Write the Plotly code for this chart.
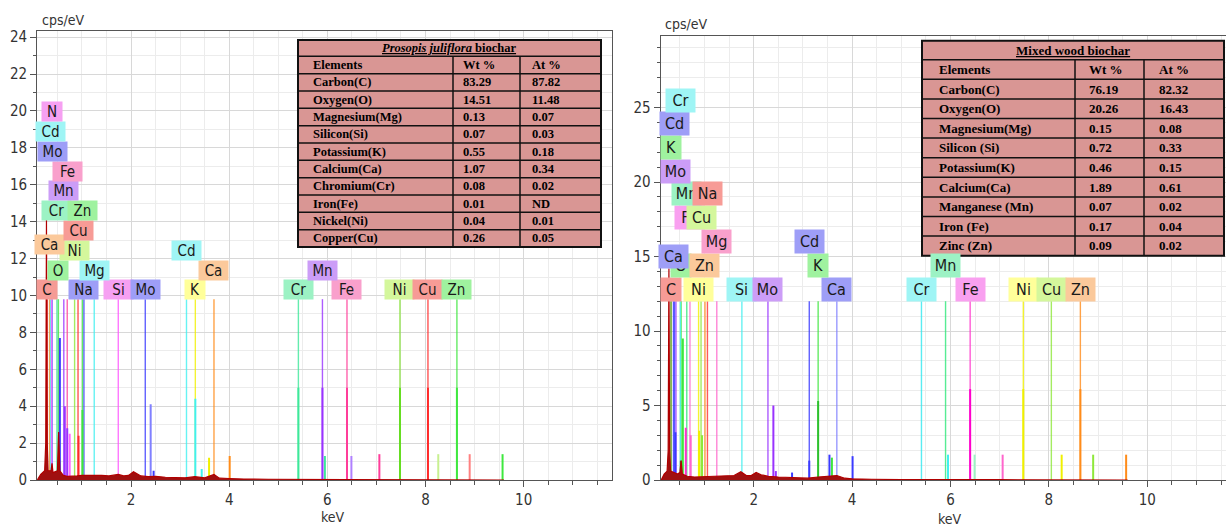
import plotly.graph_objects as go

W, H = 1226, 528

# ---------------- data: left spectrum (Prosopis juliflora biochar) ----------------
L_lab_name = ["C", "Na", "Si", "Mo", "K", "Cr", "Fe", "Ni", "Cu", "Zn",
              "O", "Mg", "Ca", "Mn",
              "Ni", "Cd", "Ca", "Cu", "Cr", "Zn", "Mn", "Fe", "Mo", "Cd", "N"]
L_lab_kev = [0.29, 1.04, 1.74, 2.29, 3.31, 5.41, 6.40, 7.48, 8.05, 8.64,
             0.52, 1.25, 3.69, 5.90,
             0.85, 3.13, 0.34, 0.92, 0.49, 1.01, 0.63, 0.70, 0.39, 0.36, 0.38]
L_lab_cps = [10.31] * 10 + [11.38] * 4 + [12.46, 12.46, 12.74, 13.53, 14.6, 14.6,
                                          15.67, 16.74, 17.82, 18.89, 19.96]
L_lab_bg = ["#f59b95", "#9e9ef7", "#f6a0f2", "#9e9ef7", "#ffff9a", "#9cf2c4", "#f9a0cc",
            "#d4f79c", "#f79b96", "#9ff29f",
            "#9ff29f", "#9ff5f5", "#fbc99b", "#cc9df7",
            "#d4f79c", "#9ff5f5", "#fbc99b", "#f79b96", "#9cf2c4", "#9ff29f",
            "#cc9df7", "#f9a0cc", "#9e9ef7", "#9ff5f5", "#f6a0f2"]
L_lab_line = ["#e01010", "#3a3aff", "#ff55ff", "#3a3aff", "#f0f000", "#3ee89a", "#ff3d9a",
              "#7ee02a", "#ff2a2a", "#3ee83e",
              "#3ee83e", "#40f0f0", "#ff8c1a", "#9933ff",
              "#8ee83a", "#40f0f0", "#ff8c1a", "#ff2a2a", "#3ee89a", "#3ee83e",
              "#9933ff", "#ff3d9a", "#3a3aff", "#40f0f0", "#ff66ff"]
L_seg_kev = [0.55, 0.65, 0.70, 0.75, 0.93, 1.01, 2.40, 2.46, 3.31, 3.44, 3.59, 4.01,
             5.41, 5.95, 5.90, 6.49, 6.40, 7.06, 7.48, 8.26, 8.05, 8.90, 8.64, 9.57]
L_seg_cps = [7.7, 4.0, 2.8, 2.5, 2.4, 3.8, 4.1, 0.5, 4.4, 0.6, 1.2, 1.3,
             5.0, 1.3, 5.0, 1.3, 5.0, 1.4, 5.0, 1.4, 5.0, 1.4, 5.0, 1.4]
L_seg_col = ["#3a3aff", "#9933ff", "#9933ff", "#ff66ff", "#ff2a2a", "#3ee83e", "#8080ff",
             "#3a3aff", "#40f0f0", "#40f0f0", "#f0f000", "#ff8c1a",
             "#3ee89a", "#3ee89a", "#9933ff", "#b080ff", "#ff3d9a", "#ff3d9a", "#66dd22",
             "#c8f090", "#ff2a2a", "#ff8080", "#3ee83e", "#3ee83e"]
L_spec_kev = [0.09, 0.16, 0.24, 0.262, 0.277, 0.292, 0.31, 0.37, 0.39, 0.41, 0.50, 0.525,
              0.55, 0.62, 0.70, 0.80, 0.90, 1.00, 1.10, 1.25, 1.40, 1.55, 1.74, 1.85, 1.95,
              2.05, 2.12, 2.20, 2.35, 2.50, 2.70, 2.90, 3.10, 3.30, 3.50, 3.69, 3.80, 4.00,
              4.30, 4.80, 6.00, 8.00, 9.60]
L_spec_cps = [0.0, 0.3, 0.5, 2.0, 14.2, 2.0, 0.5, 0.5, 0.9, 0.4, 0.5, 2.6,
              0.5, 0.25, 0.2, 0.2, 0.22, 0.25, 0.25, 0.28, 0.25, 0.22, 0.3, 0.22, 0.25,
              0.45, 0.35, 0.22, 0.18, 0.2, 0.15, 0.12, 0.12, 0.18, 0.12, 0.3, 0.1, 0.08,
              0.05, 0.04, 0.02, 0.02, 0.0]

# ---------------- data: right spectrum (Mixed wood biochar) ----------------
R_lab_name = ["C", "Ni", "Si", "Mo", "Ca", "Cr", "Fe", "Ni", "Cu", "Zn",
              "O", "Zn", "K", "Mn", "Ca", "Mg", "Cd", "Fe", "Cu", "Mn", "Na",
              "Mo", "K", "Cd", "Cr"]
R_lab_kev = [0.32, 0.88, 1.76, 2.29, 3.69, 5.41, 6.40, 7.48, 8.05, 8.64,
             0.525, 1.01, 3.31, 5.90, 0.37, 1.25, 3.13, 0.705, 0.93, 0.64, 1.06,
             0.42, 0.32, 0.39, 0.51]
R_lab_cps = [12.8] * 10 + [14.4, 14.4, 14.4, 14.4, 15.0, 16.0, 16.0, 17.6, 17.6, 19.2, 19.2,
                           20.7, 22.3, 23.9, 25.5]
R_lab_bg = ["#f79b96", "#ffff9a", "#9ff5f5", "#cc9df7", "#9e9ef7", "#9ff5f5", "#f9a0f0",
            "#ffff9a", "#d4f79c", "#fbc99b",
            "#9ff29f", "#fbc99b", "#9ff29f", "#9cf2c4", "#9e9ef7", "#f9a0cc", "#9e9ef7",
            "#f9a0f0", "#d4f79c", "#9cf2c4", "#f79b96",
            "#cc9df7", "#9ff29f", "#9e9ef7", "#9ff5f5"]
R_lab_line = ["#e01010", "#f0f000", "#40f0f0", "#9933ff", "#8080ff", "#30e8f0", "#ff33cc",
              "#f0f000", "#8ee83a", "#ff8c1a",
              "#3ee83e", "#ff8c1a", "#3ee83e", "#2ee87a", "#3a3aff", "#ff66cc", "#3a3aff",
              "#ff66cc", "#8ee83a", "#2ee87a", "#ff3030",
              "#9933ff", "#3ee83e", "#3a3aff", "#40f0f0"]
R_seg_kev = [0.41, 0.52, 0.56, 0.62, 0.72, 0.89, 0.95, 2.40, 2.45, 2.78, 3.13, 3.31, 3.54,
             3.59, 4.01, 5.95, 6.40, 6.49, 7.06, 7.48, 8.26, 8.90, 8.64, 9.57]
R_seg_cps = [3.2, 1.3, 9.5, 3.5, 3.0, 3.3, 3.0, 5.0, 0.6, 0.5, 1.3, 5.3, 1.7,
             1.5, 1.6, 1.7, 6.1, 1.7, 1.7, 6.1, 1.7, 1.7, 6.1, 1.7]
R_seg_col = ["#3a3aff", "#2a8a2a", "#3ee83e", "#ff33cc", "#ff66cc", "#f0f000", "#8ee83a",
             "#9933ff", "#9933ff", "#3a3aff", "#3a3aff", "#2ec02e", "#3a3aff",
             "#3ee83e", "#3a3aff", "#40f0f0", "#ff00cc", "#9cf2c4", "#ff66cc", "#f0f000",
             "#f0f000", "#8ee83a", "#ff8c1a", "#ff8c1a"]
R_spec_kev = [0.12, 0.18, 0.24, 0.262, 0.277, 0.292, 0.31, 0.37, 0.45, 0.50, 0.525, 0.55,
              0.65, 0.80, 1.00, 1.20, 1.40, 1.60, 1.74, 1.85, 1.95, 2.05, 2.15, 2.30, 2.50,
              2.80, 3.10, 3.31, 3.50, 3.69, 3.85, 4.00, 4.40, 5.00, 7.00, 9.60]
R_spec_cps = [0.0, 0.4, 0.6, 2.0, 14.2, 2.0, 0.6, 0.5, 0.4, 0.5, 1.3, 0.4,
              0.25, 0.2, 0.22, 0.25, 0.25, 0.3, 0.55, 0.3, 0.3, 0.5, 0.35, 0.25, 0.2,
              0.15, 0.12, 0.2, 0.25, 0.3, 0.12, 0.08, 0.05, 0.03, 0.02, 0.0]

# ---------------- data: tables ----------------
L_tab_title = "<i>Prosopis juliflora</i> biochar"
L_tab_head = ["Elements", "Wt %", "At %"]
L_tab_el = ["Carbon(C)", "Oxygen(O)", "Magnesium(Mg)", "Silicon(Si)", "Potassium(K)",
            "Calcium(Ca)", "Chromium(Cr)", "Iron(Fe)", "Nickel(Ni)", "Copper(Cu)"]
L_tab_wt = ["83.29", "14.51", "0.13", "0.07", "0.55", "1.07", "0.08", "0.01", "0.04", "0.26"]
L_tab_at = ["87.82", "11.48", "0.07", "0.03", "0.18", "0.34", "0.02", "ND", "0.01", "0.05"]

R_tab_title = "Mixed wood biochar"
R_tab_head = ["Elements", "Wt %", "At %"]
R_tab_el = ["Carbon(C)", "Oxygen(O)", "Magnesium(Mg)", "Silicon (Si)", "Potassium(K)",
            "Calcium(Ca)", "Manganese (Mn)", "Iron (Fe)", "Zinc (Zn)"]
R_tab_wt = ["76.19", "20.26", "0.15", "0.72", "0.46", "1.89", "0.07", "0.17", "0.09"]
R_tab_at = ["82.32", "16.43", "0.08", "0.33", "0.15", "0.61", "0.02", "0.04", "0.02"]

# ---------------- figure ----------------
fig = go.Figure()
SANS = "DejaVu Sans Condensed, DejaVu Sans, sans-serif"
SERIF = "Liberation Serif, Times New Roman, serif"


def px(x):
    return x / W


def py(y):
    return 1 - y / H


def add_panel(xa, ya, lab_kev, lab_line, top, seg_kev, seg_cps, seg_col, spec_kev, spec_cps):
    for e, c in zip(lab_kev, lab_line):
        fig.add_trace(go.Scatter(x=[e, e], y=[0, top], mode="lines", xaxis=xa, yaxis=ya,
                                 line=dict(color=c, width=1.4), opacity=0.8,
                                 hoverinfo="skip", showlegend=False))
    for e, h, c in zip(seg_kev, seg_cps, seg_col):
        fig.add_trace(go.Scatter(x=[e, e], y=[0, h], mode="lines", xaxis=xa, yaxis=ya,
                                 line=dict(color=c, width=2), hoverinfo="skip",
                                 showlegend=False))
    fig.add_trace(go.Scatter(x=spec_kev, y=spec_cps, mode="lines", fill="tozeroy",
                             xaxis=xa, yaxis=ya, line=dict(color="#b00000", width=1.2),
                             fillcolor="#a01010", hoverinfo="skip", showlegend=False))


add_panel("x", "y", L_lab_kev, L_lab_line, 9.8, L_seg_kev, L_seg_cps, L_seg_col,
          L_spec_kev, L_spec_cps)
add_panel("x2", "y2", R_lab_kev, R_lab_line, 12.0, R_seg_kev, R_seg_cps, R_seg_col,
          R_spec_kev, R_spec_cps)

ann = []


def add_labels(names, kev, cps, bgs, xr, yr, h, fs):
    for n, e, c, b in zip(names, kev, cps, bgs):
        w = 20 if len(n) == 1 else 29
        ann.append(dict(text=n, x=e, y=c, xref=xr, yref=yr, showarrow=False,
                        xanchor="center", yanchor="middle",
                        bgcolor=b, width=w, height=h, borderpad=0,
                        font=dict(family=SANS, size=fs, color="#1a1a1a")))


add_labels(L_lab_name, L_lab_kev, L_lab_cps, L_lab_bg, "x", "y", 19, 15)
add_labels(R_lab_name, R_lab_kev, R_lab_cps, R_lab_bg, "x2", "y2", 23, 16)

for t, x, y, anc in [("cps/eV", 40, 20, "left"), ("cps/eV", 663, 24, "left"),
                     ("keV", 333, 517, "center"), ("keV", 950, 519, "center")]:
    ann.append(dict(text=t, x=px(x), y=py(y), xref="paper", yref="paper", showarrow=False,
                    xanchor=anc, yanchor="middle",
                    font=dict(family=SANS, size=14, color="#333333")))

shapes = []


def add_table(x0, x1, y0, title_h, row_h, c1, c2, tx, title, head, el, wt, at, fs):
    nrows = len(el) + 1
    y1 = y0 + title_h + nrows * row_h
    shapes.append(dict(type="rect", xref="paper", yref="paper", x0=px(x0), x1=px(x1),
                       y0=py(y0), y1=py(y1), fillcolor="#d99694",
                       line=dict(color="#111111", width=2), layer="above"))
    yy = y0 + title_h
    for i in range(nrows):
        shapes.append(dict(type="line", xref="paper", yref="paper", x0=px(x0), x1=px(x1),
                           y0=py(yy + i * row_h), y1=py(yy + i * row_h),
                           line=dict(color="#111111", width=1.5), layer="above"))
    for cx in (c1, c2):
        shapes.append(dict(type="line", xref="paper", yref="paper", x0=px(cx), x1=px(cx),
                           y0=py(yy), y1=py(y1), line=dict(color="#111111", width=1.5),
                           layer="above"))
    ann.append(dict(text="<b><u>" + title + "</u></b>", x=px((x0 + x1) / 2),
                    y=py(y0 + title_h / 2), xref="paper", yref="paper", showarrow=False,
                    xanchor="center", yanchor="middle",
                    font=dict(family=SERIF, size=fs, color="#000")))
    rows = [head] + [[a, b, c] for a, b, c in zip(el, wt, at)]
    for i, r in enumerate(rows):
        yc = yy + (i + 0.5) * row_h
        for j, t in enumerate(r):
            ann.append(dict(text="<b>" + t + "</b>", x=px(tx[j]), y=py(yc), xref="paper",
                            yref="paper", xanchor="left", yanchor="middle",
                            showarrow=False,
                            font=dict(family=SERIF, size=fs, color="#000")))


add_table(298, 601, 40, 16.3, 17.34, 453, 520, [311, 461, 530], L_tab_title, L_tab_head,
          L_tab_el, L_tab_wt, L_tab_at, 12.5)
add_table(922, 1224, 40.7, 19.0, 19.6, 1075, 1144, [937, 1087, 1157], R_tab_title,
          R_tab_head, R_tab_el, R_tab_wt, R_tab_at, 13)

axis_common = dict(showline=True, linecolor="#555555", linewidth=1, mirror=True,
                   ticks="outside", tickcolor="#555555", ticklen=6, zeroline=False,
                   automargin=False,
                   showgrid=True, gridcolor="#d8d8d8", gridwidth=1,
                   tickfont=dict(family=SANS, size=15, color="#333333"))

fig.update_layout(
    width=W, height=H, autosize=False, showlegend=False,
    margin=dict(l=0, r=0, t=0, b=0, pad=0),
    paper_bgcolor="white", plot_bgcolor="white",
    xaxis=dict(domain=[37.1 / W, 612 / W], range=[0.086, 11.80], anchor="y",
               dtick=2, tick0=0,
               minor=dict(dtick=0.5, ticks="outside", ticklen=4, tickcolor="#555555",
                          showgrid=True, gridcolor="#ececec"),
               **axis_common),
    yaxis=dict(domain=[48 / H, py(30.7)], range=[0, 24.35], anchor="x", dtick=2, tick0=0,
               minor=dict(dtick=1, ticks="outside", ticklen=3, tickcolor="#555555",
                          showgrid=True, gridcolor="#ececec"),
               **axis_common),
    xaxis2=dict(domain=[660.7 / W, 1.0], range=[0.11, 11.60], anchor="y2",
                dtick=2, tick0=0,
                minor=dict(dtick=0.5, ticks="outside", ticklen=4, tickcolor="#555555",
                           showgrid=True, gridcolor="#ececec"),
                **axis_common),
    yaxis2=dict(domain=[48 / H, py(36)], range=[0, 29.8], anchor="x2", dtick=5, tick0=0,
                minor=dict(dtick=1, ticks="outside", ticklen=3, tickcolor="#555555",
                           showgrid=True, gridcolor="#ececec"),
                **axis_common),
    annotations=ann,
    shapes=shapes,
)

fig.write_html("out.html",
               config={"displayModeBar": False, "responsive": False},
               default_width="1226px", default_height="528px",
               post_script="document.body.style.margin='0';document.body.style.overflow='hidden';")
